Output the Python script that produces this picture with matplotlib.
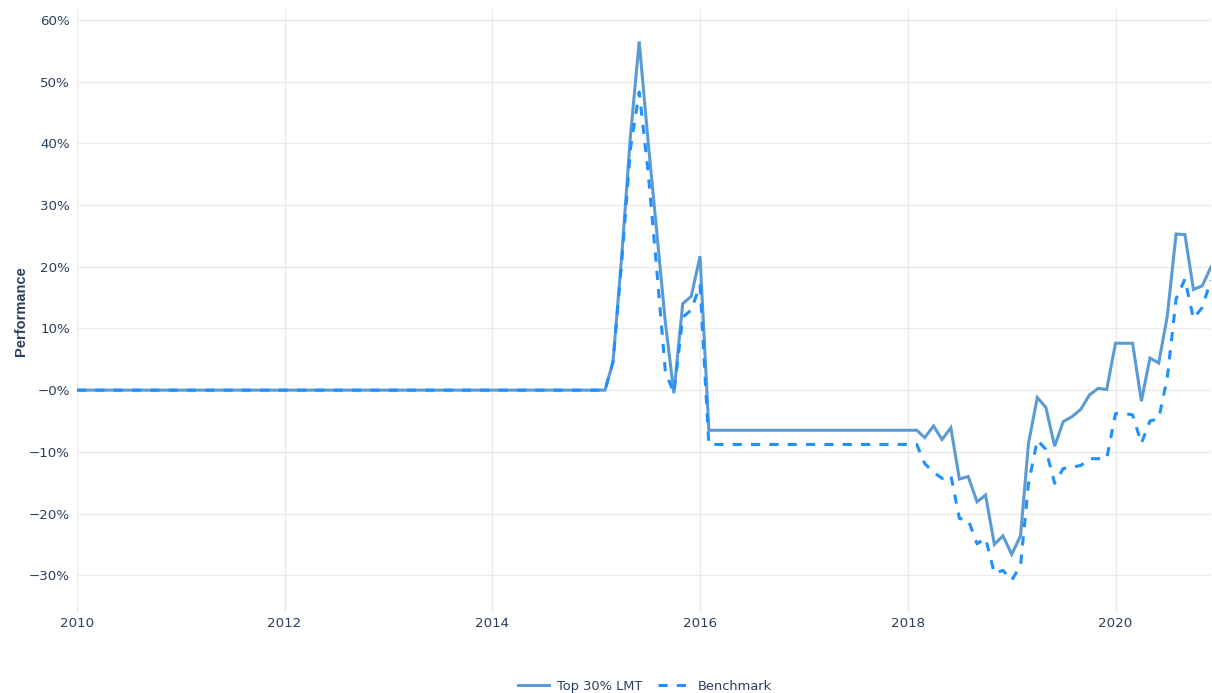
import numpy as np
import pandas as pd
import matplotlib
matplotlib.use("Agg")
import matplotlib.pyplot as plt

# monthly dates, Jan 2010 .. Dec 2020
dates = pd.date_range("2010-01-01", "2020-12-01", freq="MS")

# performance in %
top30 = ([0.0] * 62
         + [4.6, 22, 41, 56.5, 41, 26, 11, -0.5, 14, 15.2, 21.7]
         + [-6.5] * 25
         + [-7.7, -5.8, -8.0, -6.1, -14.4, -14.0, -18.1, -17.0, -25.0, -23.6,
            -26.6, -23.6, -8.6, -1.2, -2.8, -9.1, -5.1, -4.3, -3.1, -0.8,
            0.3, 0.1, 7.6, 7.6, 7.6, -1.8, 5.2, 4.4, 12.0, 25.3,
            25.2, 16.3, 16.9, 19.9])
benchmark = ([0.0] * 62
             + [4.6, 21, 39, 48.3, 36, 20, 3, -0.5, 11.8, 13, 17]
             + [-8.8] * 25
             + [-11.9, -13.3, -14.3, -13.8, -20.8, -21.0, -24.9, -24.0, -29.7, -29.2,
                -30.8, -28.4, -15.1, -8.1, -9.6, -15.1, -12.7, -12.5, -12.2, -11.1,
                -11.1, -11.1, -3.8, -3.8, -4.0, -8.6, -5.0, -4.6, 2.0, 14.8,
                18.0, 11.6, 13.4, 17.8])

y_ticks = [-30, -20, -10, 0, 10, 20, 30, 40, 50, 60]
y_tick_labels = ["\u221230%", "\u221220%", "\u221210%", "\u22120%",
                 "10%", "20%", "30%", "40%", "50%", "60%"]
x_tick_years = [2010, 2012, 2014, 2016, 2018, 2020]

TEXT = "#2a3f5f"
GRID = "#ebebeb"

fig = plt.figure(figsize=(12.12, 6.93), dpi=100)
ax = fig.add_axes([0.0635, 0.1155, 0.9355, 0.8715])

ax.plot(dates, top30, color="#5a9bd6", linewidth=2.2, label="Top 30% LMT",
        solid_joinstyle="miter", zorder=3)
ax.plot(dates, benchmark, color="#1e90ff", linewidth=2.2, linestyle=(0, (3, 3)),
        label="Benchmark", zorder=4)

ax.set_xlim(dates[0], dates[-1])
ax.set_ylim(-36.1, 61.75)

ax.set_yticks(y_ticks)
ax.set_yticklabels(y_tick_labels)
ax.set_xticks([pd.Timestamp(f"{y}-01-01") for y in x_tick_years])
ax.set_xticklabels([str(y) for y in x_tick_years])

ax.grid(True, color=GRID, linewidth=1.0)
ax.set_axisbelow(True)
for s in ax.spines.values():
    s.set_visible(False)
ax.tick_params(axis="both", length=0, labelsize=9.6, labelcolor=TEXT)
ax.tick_params(axis="x", pad=3)
ax.tick_params(axis="y", pad=5)

ax.set_ylabel("Performance", fontsize=10.5, fontweight="bold", color=TEXT,
              family="Liberation Sans", labelpad=1)

fig.legend(loc="center", bbox_to_anchor=(0.532, 0.01), ncol=2, frameon=False,
           fontsize=9.4, labelcolor=TEXT, handlelength=2.4, columnspacing=1.2,
           handletextpad=0.6)

fig.savefig("out.png", dpi=100)
